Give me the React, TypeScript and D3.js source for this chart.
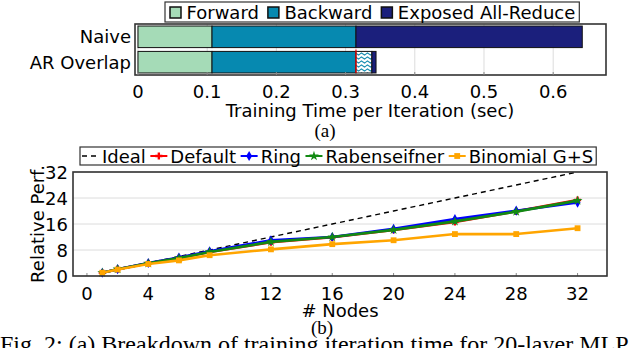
import React, { useEffect, useRef } from 'react';
import * as d3 from 'd3';

// (a) breakdown of one training iteration, seconds
const configs = ['Naive', 'AR Overlap'];
const forwardSec = [0.107, 0.107];
const backwardSec = [0.208, 0.208];
const overlapSec = [0, 0.023];
const exposedSec = [0.327, 0.006];
const phaseNames = ['Forward', 'Backward', 'Exposed All-Reduce'];
const timeTicks = [0, 0.1, 0.2, 0.3, 0.4, 0.5, 0.6];

// (b) scaling, relative performance vs. # nodes
const nodes = [1, 2, 4, 6, 8, 12, 16, 20, 24, 28, 32];
const ideal = [1, 2, 4, 6, 8, 12, 16, 20, 24, 28, 32];
const defaultPerf = [1.0, 2.1, 3.9, 5.5, 7.4, 10.4, 11.9, 14.2, 16.6, 19.9, 23.4];
const ringPerf = [1.0, 2.1, 4.0, 5.7, 7.6, 11.0, 12.0, 14.5, 17.5, 20.1, 22.6];
const rabenPerf = [1.0, 2.1, 3.9, 5.5, 7.4, 10.5, 12.0, 14.2, 16.8, 19.8, 23.2];
const binomialPerf = [1.0, 2.0, 3.7, 4.8, 6.4, 8.2, 9.8, 11.0, 12.9, 12.9, 14.7];
const seriesNames = ['Ideal', 'Default', 'Ring', 'Rabenseifner', 'Binomial G+S'];
const nodeTicks = [0, 4, 8, 12, 16, 20, 24, 28, 32];
const perfTicks = [0, 8, 16, 24, 32];

const SANS = 'DejaVu Sans';
const SERIF = 'Liberation Serif';

const App = () => {
  const svgRef = useRef<SVGSVGElement>(null);

  useEffect(() => {
    const svg = d3.select(svgRef.current);
    svg.selectAll('*').remove();
    const fs = 18;

    const defs = svg.append('defs');
    const pat = defs.append('pattern')
      .attr('id', 'arHatch')
      .attr('patternUnits', 'userSpaceOnUse')
      .attr('width', 6).attr('height', 4);
    pat.append('rect').attr('width', 6).attr('height', 4).attr('fill', '#fff');
    pat.append('path')
      .attr('d', 'M0,2 L1.5,1 L3,2 L4.5,3 L6,2')
      .attr('stroke', '#1c90b2').attr('fill', 'none').attr('stroke-width', 1.1);

    // ================= (a) =================
    const ax = d3.scaleLinear().domain([-0.0043, 0.6763]).range([135, 606]);
    const ay = d3.scaleBand().domain(configs).range([24, 75]).paddingInner(0.15).paddingOuter(0.08);
    const top = svg.append('g');

    top.append('g').selectAll('line').data(timeTicks).join('line')
      .attr('x1', d => ax(d)).attr('x2', d => ax(d))
      .attr('y1', 24).attr('y2', 75)
      .attr('stroke', '#dcdcdc');

    const table = configs.map((c, i) => ({
      config: c,
      forward: forwardSec[i],
      backward: backwardSec[i],
      overlap: overlapSec[i],
      exposed: exposedSec[i],
    }));
    const keys = ['forward', 'backward', 'overlap', 'exposed'];
    const fills: Record<string, string> = {
      forward: '#a5dbb7',
      backward: '#0689b0',
      overlap: 'url(#arHatch)',
      exposed: '#1b1f7c',
    };
    const stacked = d3.stack<any>().keys(keys)(table);
    stacked.forEach(layer => {
      top.append('g').selectAll('rect')
        .data(layer.filter(d => d[1] - d[0] > 0))
        .join('rect')
        .attr('x', d => ax(d[0]))
        .attr('width', d => ax(d[1]) - ax(d[0]))
        .attr('y', d => ay(d.data.config)!)
        .attr('height', ay.bandwidth())
        .attr('fill', fills[layer.key])
        .attr('stroke', '#111')
        .attr('stroke-width', 1);
    });

    // start of all-reduce overlap marker
    const ov = configs.indexOf('AR Overlap');
    top.append('line')
      .attr('x1', ax(forwardSec[ov] + backwardSec[ov]))
      .attr('x2', ax(forwardSec[ov] + backwardSec[ov]))
      .attr('y1', ay('AR Overlap')! - 2)
      .attr('y2', ay('AR Overlap')! + ay.bandwidth())
      .attr('stroke', '#ff0000').attr('stroke-width', 1.2);

    top.append('rect')
      .attr('x', 135).attr('y', 24).attr('width', 471).attr('height', 51)
      .attr('fill', 'none').attr('stroke', '#333').attr('stroke-width', 1.6);

    top.append('g').selectAll('line').data(timeTicks).join('line')
      .attr('x1', d => ax(d)).attr('x2', d => ax(d))
      .attr('y1', 75).attr('y2', 72)
      .attr('stroke', '#888');

    top.append('g').selectAll('text').data(timeTicks).join('text')
      .attr('x', d => ax(d)).attr('y', 97.5)
      .attr('text-anchor', 'middle')
      .style('font', `${fs}px "${SANS}"`)
      .text(d => (d === 0 ? '0' : d.toFixed(1)));

    top.append('g').selectAll('text').data(configs).join('text')
      .attr('x', 131)
      .attr('y', d => ay(d)! + ay.bandwidth() / 2 + 6.5)
      .attr('text-anchor', 'end')
      .style('font', `${fs}px "${SANS}"`)
      .text(d => d);

    top.append('text')
      .attr('x', 370).attr('y', 116.5)
      .attr('text-anchor', 'middle')
      .style('font', `${fs}px "${SANS}"`)
      .text('Training Time per Iteration (sec)');

    top.append('text')
      .attr('x', 325).attr('y', 137)
      .attr('text-anchor', 'middle')
      .style('font', `19px "${SERIF}"`)
      .text('(a)');

    // legend (a)
    const legA = top.append('g');
    const legABox = legA.append('rect')
      .attr('y', 2).attr('height', 20)
      .attr('fill', '#fff').attr('stroke', '#333').attr('stroke-width', 1.2);
    const phaseFill = ['#a5dbb7', '#0689b0', '#1b1f7c'];
    let lx = 170;
    phaseNames.forEach((name, i) => {
      legA.append('rect')
        .attr('x', lx).attr('y', 7).attr('width', 11).attr('height', 11)
        .attr('fill', phaseFill[i]).attr('stroke', '#111').attr('stroke-width', 1.5);
      const t = legA.append('text')
        .attr('x', lx + 16.5).attr('y', 18.5)
        .style('font', `${fs}px "${SANS}"`)
        .text(name);
      const w = (t.node() as SVGTextElement).getComputedTextLength();
      lx = lx + 16.5 + w + 9;
    });
    legABox.attr('x', 165).attr('width', lx - 9 + 4 - 165);

    // ================= (b) =================
    const bx = d3.scaleLinear().domain([-0.91, 33.92]).range([73, 607]);
    const by = d3.scaleLinear().domain([0, 32]).range([276, 172]);
    const bot = svg.append('g');

    bot.append('g').selectAll('line').data(perfTicks).join('line')
      .attr('x1', 73).attr('x2', 607)
      .attr('y1', d => by(d)).attr('y2', d => by(d))
      .attr('stroke', '#dcdcdc');

    bot.append('g').selectAll('line').data(nodeTicks).join('line')
      .attr('x1', d => bx(d)).attr('x2', d => bx(d))
      .attr('y1', 276).attr('y2', 273)
      .attr('stroke', '#888');

    const series = [
      { name: 'Ideal', vals: ideal, color: '#000', width: 1.4, dash: '5,4', symbol: null as any, size: 0 },
      { name: 'Default', vals: defaultPerf, color: '#ff0000', width: 2.6, dash: null, symbol: d3.symbolCross, size: 28 },
      { name: 'Ring', vals: ringPerf, color: '#0000ff', width: 2.6, dash: null, symbol: d3.symbolDiamond, size: 30 },
      { name: 'Rabenseifner', vals: rabenPerf, color: '#138a13', width: 2.6, dash: null, symbol: d3.symbolStar, size: 30 },
      { name: 'Binomial G+S', vals: binomialPerf, color: '#ffa500', width: 2.6, dash: null, symbol: d3.symbolSquare, size: 34 },
    ];

    const line = d3.line<number>()
      .x((_, i) => bx(nodes[i]))
      .y(d => by(d));

    series.forEach(s => {
      bot.append('path')
        .attr('d', line(s.vals))
        .attr('fill', 'none')
        .attr('stroke', s.color)
        .attr('stroke-width', s.width)
        .attr('stroke-dasharray', s.dash)
        .attr('stroke-linejoin', 'round');
      if (s.symbol) {
        bot.append('g').selectAll('path').data(s.vals).join('path')
          .attr('transform', (d, i) => `translate(${bx(nodes[i])},${by(d)})`)
          .attr('d', d3.symbol().type(s.symbol).size(s.size)())
          .attr('fill', s.color);
      }
    });

    bot.append('rect')
      .attr('x', 73).attr('y', 172).attr('width', 534).attr('height', 104)
      .attr('fill', 'none').attr('stroke', '#333').attr('stroke-width', 1.6);

    bot.append('g').selectAll('text').data(perfTicks).join('text')
      .attr('x', 68).attr('y', d => by(d) + 6.5)
      .attr('text-anchor', 'end')
      .style('font', `${fs}px "${SANS}"`)
      .text(d => d);

    bot.append('g').selectAll('text').data(nodeTicks).join('text')
      .attr('x', d => bx(d)).attr('y', 299.5)
      .attr('text-anchor', 'middle')
      .style('font', `${fs}px "${SANS}"`)
      .text(d => d);

    bot.append('text')
      .attr('transform', 'translate(43.5,224) rotate(-90)')
      .attr('text-anchor', 'middle')
      .style('font', `${fs}px "${SANS}"`)
      .text('Relative Perf.');

    bot.append('text')
      .attr('x', 340).attr('y', 316.5)
      .attr('text-anchor', 'middle')
      .style('font', `${fs}px "${SANS}"`)
      .text('# Nodes');

    bot.append('text')
      .attr('x', 322).attr('y', 333.5)
      .attr('text-anchor', 'middle')
      .style('font', `19px "${SERIF}"`)
      .text('(b)');

    // legend (b)
    const legB = bot.append('g');
    const legBBox = legB.append('rect')
      .attr('y', 147).attr('height', 18)
      .attr('fill', '#fff').attr('stroke', '#333').attr('stroke-width', 1.2);
    let mx = 82;
    series.forEach((s, i) => {
      legB.append('line')
        .attr('x1', mx).attr('x2', mx + 17)
        .attr('y1', 156).attr('y2', 156)
        .attr('stroke', s.color)
        .attr('stroke-width', s.dash ? 1.4 : 2)
        .attr('stroke-dasharray', s.dash);
      if (s.symbol) {
        legB.append('path')
          .attr('transform', `translate(${mx + 8.5},156)`)
          .attr('d', d3.symbol().type(s.symbol).size(s.size)())
          .attr('fill', s.color);
      }
      const t = legB.append('text')
        .attr('x', mx + 20).attr('y', 162.5)
        .style('font', `${fs}px "${SANS}"`)
        .text(seriesNames[i]);
      const w = (t.node() as SVGTextElement).getComputedTextLength();
      mx = mx + 20 + w + 4.5;
    });
    legBBox.attr('x', 80).attr('width', mx - 4.5 + 3 - 80);

    // caption, cut by the bottom edge
    svg.append('text')
      .attr('x', 0).attr('y', 352)
      .style('font', `24px "${SERIF}"`)
      .text('Fig. 2: (a) Breakdown of training iteration time for 20-layer MLP');
  }, []);

  return (
    <svg
      ref={svgRef}
      width={640}
      height={348}
      style={{ position: 'absolute', left: 0, top: 0, background: '#fff' }}
    />
  );
};

export default App;
